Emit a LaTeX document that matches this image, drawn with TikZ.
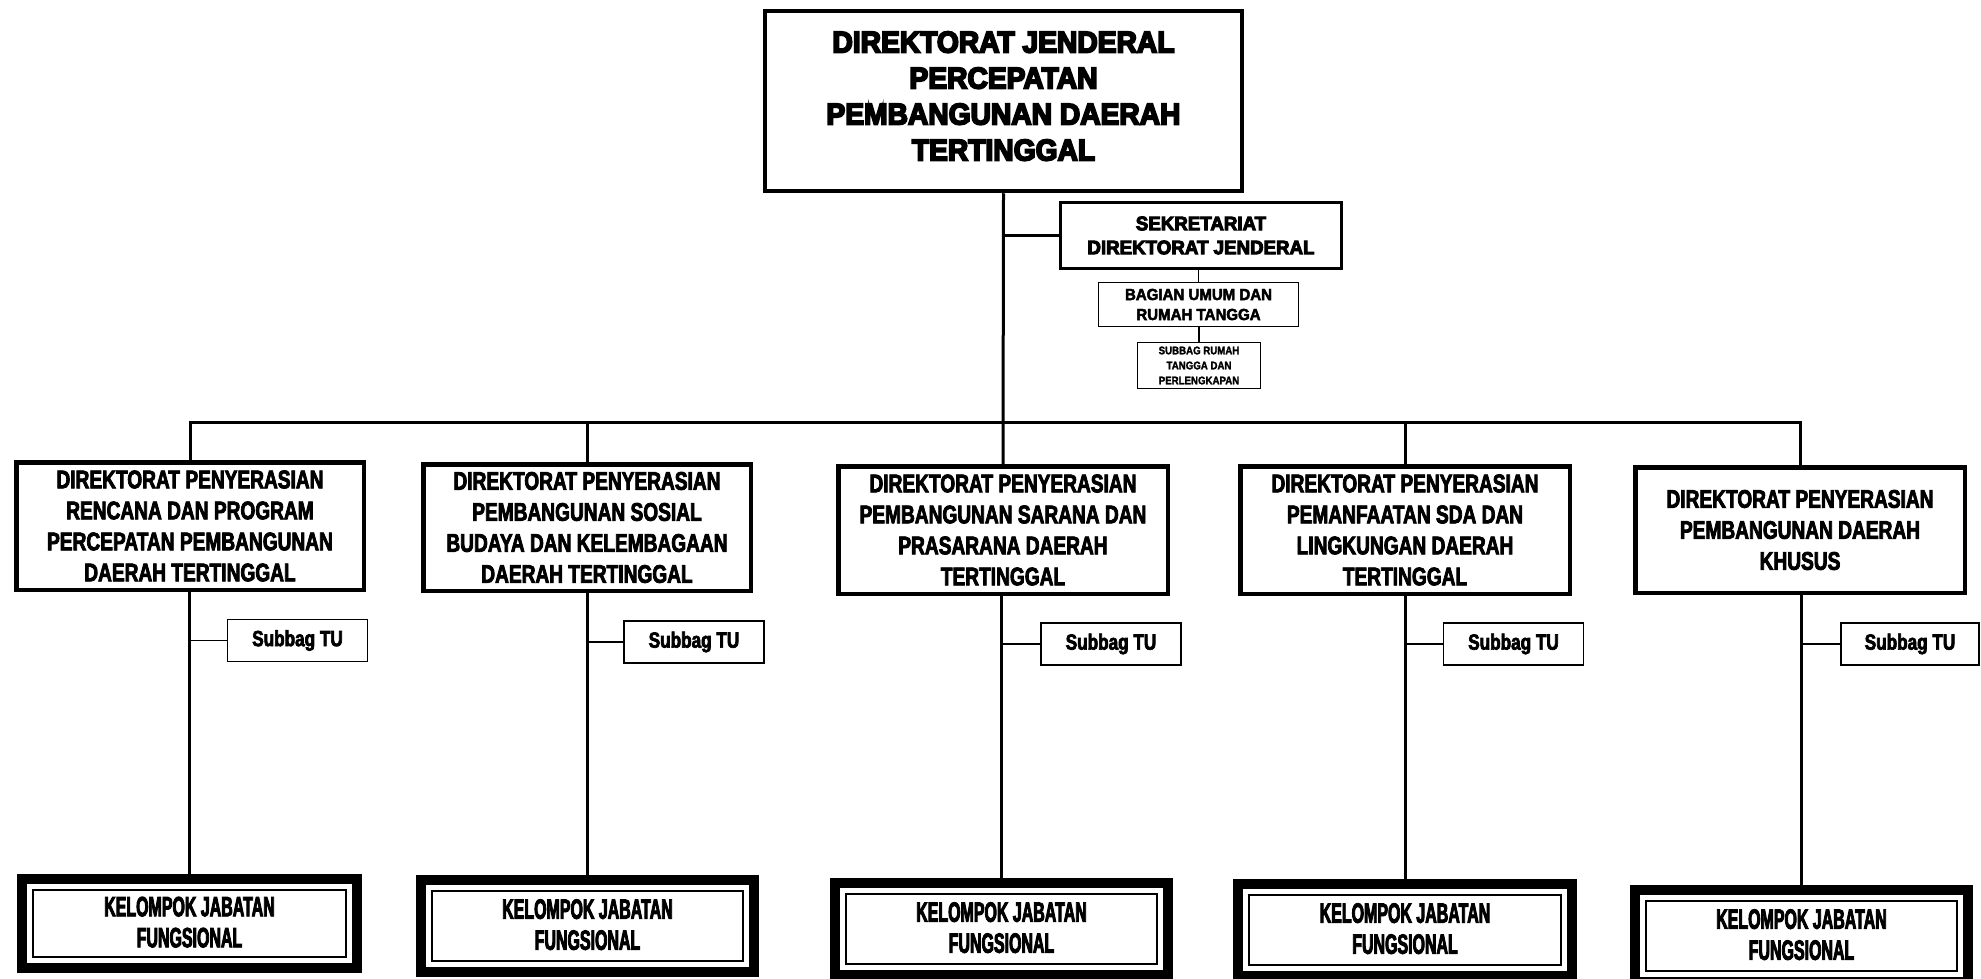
\documentclass[tikz,border=0pt]{standalone}
\usepackage{fontspec}
\setmainfont{Liberation Sans}
\newfontfamily\fheavy{Liberation Sans}[FakeStretch=0.94,BoldFeatures={FakeBold=6}]
\newfontfamily\fsek{Liberation Sans}[FakeStretch=0.96,BoldFeatures={FakeBold=5}]
\newfontfamily\fcond{Liberation Sans}[FakeStretch=0.75,BoldFeatures={FakeBold=3}]
\newfontfamily\fsub{Liberation Sans}[FakeStretch=0.78,BoldFeatures={FakeBold=3}]
\newfontfamily\fkel{Liberation Sans}[FakeStretch=0.57,BoldFeatures={FakeBold=3}]
\newfontfamily\fbag{Liberation Sans}[FakeStretch=0.94,BoldFeatures={FakeBold=3}]
\newfontfamily\fsmall{Liberation Sans}[FakeStretch=0.88,BoldFeatures={FakeBold=2}]
\begin{document}
\begin{tikzpicture}[x=1pt,y=-1pt,
  every node/.style={inner sep=0pt, align=center},
  topbox/.style={draw, line width=4.5pt, minimum width=477pt, minimum height=180pt,
    font=\fheavy\bfseries\fontsize{30}{36}\selectfont, text depth=10pt},
  sekbox/.style={draw, line width=3pt, minimum width=281pt, minimum height=66pt,
    font=\fsek\bfseries\fontsize{19.5}{24}\selectfont},
  bagbox/.style={draw, line width=1.6pt, minimum width=200pt, minimum height=44pt,
    font=\fbag\bfseries\fontsize{16}{20}\selectfont},
  rumbox/.style={draw, line width=1.4pt, minimum width=123pt, minimum height=46pt,
    font=\fsmall\bfseries\fontsize{11}{15}\selectfont},
  dirbox/.style={draw, line width=4.5pt, minimum width=329.5pt, minimum height=127.5pt,
    font=\fcond\bfseries\fontsize{25.5}{31}\selectfont},
  tubox/.style={draw, line width=1.6pt, minimum width=140pt, minimum height=42pt,
    font=\fsub\bfseries\fontsize{22}{24}\selectfont},
  kelbox/.style={draw, line width=10pt, minimum width=334pt, minimum height=92pt,
    font=\fkel\bfseries\fontsize{28}{31}\selectfont, text depth=3pt},
  link/.style={line width=3pt},
  thinlink/.style={line width=1.5pt},
  kelinner/.style={line width=2pt}
]
\fill[white] (0,0) rectangle (1981,979);
\useasboundingbox (0,0) rectangle (1981,979);

% top
\node[topbox] (top) at (1003.5,101) {DIREKTORAT JENDERAL\\PERCEPATAN\\PEMBANGUNAN DAERAH\\TERTINGGAL};
\node[sekbox] (sek) at (1201,235.5) {SEKRETARIAT\\DIREKTORAT JENDERAL};
\node[bagbox] (bag) at (1198.5,304.5) {BAGIAN UMUM DAN\\RUMAH TANGGA};
\node[rumbox] (rum) at (1199,365.5) {SUBBAG RUMAH\\TANGGA DAN\\PERLENGKAPAN};

% level 2
\node[dirbox, minimum width=347.5pt] (b1) at (190,526) {DIREKTORAT PENYERASIAN\\RENCANA DAN PROGRAM\\PERCEPATAN PEMBANGUNAN\\DAERAH TERTINGGAL};
\node[dirbox, minimum width=327.5pt, minimum height=126.5pt] (b2) at (587,527.5) {DIREKTORAT PENYERASIAN\\PEMBANGUNAN SOSIAL\\BUDAYA DAN KELEMBAGAAN\\DAERAH TERTINGGAL};
\node[dirbox] (b3) at (1003,530) {DIREKTORAT PENYERASIAN\\PEMBANGUNAN SARANA DAN\\PRASARANA DAERAH\\TERTINGGAL};
\node[dirbox] (b4) at (1405,530) {DIREKTORAT PENYERASIAN\\PEMANFAATAN SDA DAN\\LINGKUNGAN DAERAH\\TERTINGGAL};
\node[dirbox, minimum height=125.5pt] (b5) at (1800,530) {DIREKTORAT PENYERASIAN\\PEMBANGUNAN DAERAH\\KHUSUS};

% subbag TU
\node[tubox] (s1) at (297.5,640.5) {Subbag TU};
\node[tubox] (s2) at (694,642) {Subbag TU};
\node[tubox] (s3) at (1111,644) {Subbag TU};
\node[tubox] (s4) at (1513.5,644) {Subbag TU};
\node[tubox, minimum width=138.5pt] (s5) at (1910,644) {Subbag TU};

% kelompok
\node[kelbox, minimum width=335pt, minimum height=89pt] (k1) at (189.5,923.5) {KELOMPOK JABATAN\\FUNGSIONAL};
\node[kelbox, minimum width=333pt] (k2) at (587.5,926) {KELOMPOK JABATAN\\FUNGSIONAL};
\node[kelbox, minimum width=333pt] (k3) at (1001.5,929) {KELOMPOK JABATAN\\FUNGSIONAL};
\node[kelbox] (k4) at (1405,930) {KELOMPOK JABATAN\\FUNGSIONAL};
\node[kelbox, minimum width=333pt] (k5) at (1801.5,936) {KELOMPOK JABATAN\\FUNGSIONAL};
\foreach \k in {k1,k2,k3,k4,k5}{
  \draw[kelinner] ([xshift=16pt,yshift=-16pt]\k.north west) rectangle ([xshift=-16pt,yshift=16pt]\k.south east);
}

% connectors
\coordinate (bus) at (1003,422);
\draw[link] (top.south) -- (b3.north);
\draw[link] (sek.west) -- (sek.west -| top.south);
\draw[thinlink] (bag.north |- sek.south) -- (bag.north);
\draw[thinlink] (rum.north |- bag.south) -- (rum.north);
\draw[link] (b1.north) -- (b1.north |- bus) -- (b5.north |- bus) -- (b5.north);
\draw[link] (b2.north) -- (b2.north |- bus);
\draw[link] (b4.north) -- (b4.north |- bus);
\foreach \i in {1,...,5}{
  \draw[link] (b\i.south -| k\i.north) -- (k\i.north);
  \draw[thinlink] (s\i.west) -- (s\i.west -| k\i.north);
}
\end{tikzpicture}
\end{document}
